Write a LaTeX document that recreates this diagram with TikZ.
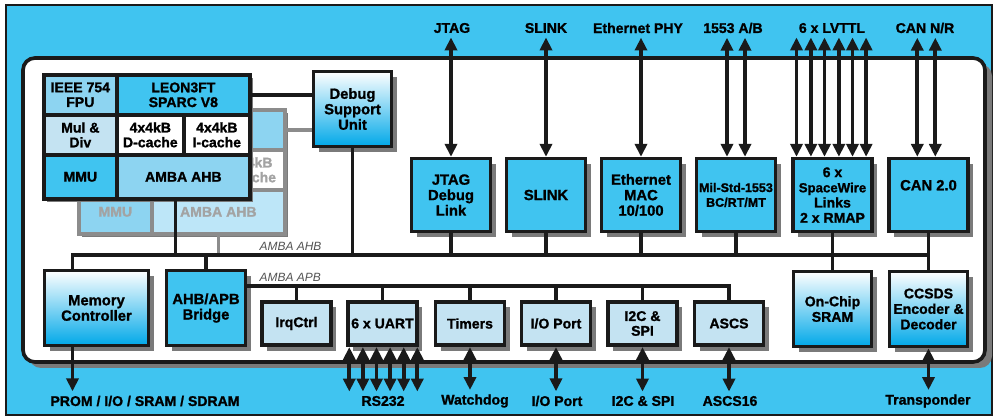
\documentclass[tikz,border=0pt]{standalone}
\usepackage{fontspec}
\setmainfont{Liberation Sans}[BoldFeatures={FakeBold=1.2}]
\usetikzlibrary{positioning,arrows.meta,shadows}
\definecolor{cCyan}{HTML}{40C4F0}
\definecolor{cLight}{HTML}{8DD4F1}
\definecolor{cPale}{HTML}{C4E3F2}
\definecolor{cFaint}{HTML}{BDE6F8}
\definecolor{cDeep}{HTML}{00A8E8}
\definecolor{cInk}{HTML}{1A1A1A}
\definecolor{cShade}{HTML}{7A7A7A}
\definecolor{cGrey}{HTML}{8C8C8C}

\begin{document}
\begin{tikzpicture}[x=0.025cm,y=-0.025cm,
    blk/.style={draw=cInk,line width=2.6pt,fill=cCyan,align=center,inner sep=1pt,
                font=\fontsize{10.5}{11}\selectfont\bfseries,
                drop shadow={shadow xshift=0.13cm,shadow yshift=-0.13cm,fill=cShade,opacity=1}},
    gblk/.style={blk,top color=white,bottom color=cDeep},
    topblk/.style={blk,minimum width=1.97cm,minimum height=1.82cm},
    apbblk/.style={blk,fill=cPale,minimum width=1.72cm,minimum height=1.09cm,
                   font=\fontsize{10}{10.5}\selectfont\bfseries},
    cell/.style={draw=cInk,line width=2.6pt,anchor=north west,inner sep=0pt,align=center,
                 font=\fontsize{10}{10.5}\selectfont\bfseries},
    bcell/.style={cell,draw=cGrey,text=cGrey!80},
    bus/.style={cInk,line width=2.6pt},
    gbus/.style={cGrey,line width=2.6pt},
    io/.style={{Triangle[length=3.2mm,width=3mm]}-{Triangle[length=3.2mm,width=3mm]},cInk,line width=2.6pt},
    arr/.style={-{Triangle[length=3.2mm,width=3mm]},cInk,line width=2.6pt},
    ext/.style={font=\fontsize{10}{11}\selectfont\bfseries,inner sep=3pt},
    buslab/.style={font=\fontsize{8.5}{9}\selectfont\itshape,text=cInk!75,inner sep=1pt}]
  \useasboundingbox (0,0) rectangle (996,419);
  % chip outline
  \draw[cInk,line width=1.6pt,fill=cCyan] (6,5) rectangle (992,415);
  \fill[cShade,rounded corners=0.3cm] (29,64) rectangle (992,368);
  \draw[cInk,line width=2.6pt,fill=white,rounded corners=0.3cm] (23,58) rectangle (985,362);

  % second processor (behind)
  \fill[cShade] (82,113) rectangle (288,237);
  \node[bcell,fill=cLight,minimum width=1.825cm,minimum height=1cm] (bFpu) at (77,108) {};
  \node[bcell,fill=cLight,minimum width=3.325cm,minimum height=1cm] (bLeon) at (150,108) {};
  \node[bcell,fill=cPale,minimum width=1.825cm,minimum height=1cm] (bMul) at (77,148) {};
  \node[bcell,fill=white,minimum width=1.675cm,minimum height=1cm] (bDcache) at (150,148) {};
  \node[bcell,fill=white,minimum width=1.65cm,minimum height=1cm] (bIcache) at (217,148) {4x4kB\\I-cache};
  \node[bcell,fill=cLight,minimum width=1.825cm,minimum height=1.1cm] (bMmu) at (77,188) {MMU};
  \node[bcell,fill=cFaint,minimum width=3.325cm,minimum height=1.1cm] (bAhb) at (150,188) {AMBA AHB};

  % processor
  \fill[cShade] (47,78) rectangle (253,202);
  \node[cell,fill=cLight,minimum width=1.825cm,minimum height=1cm] (cFpu) at (42,73) {IEEE 754\\FPU};
  \node[cell,fill=cCyan,minimum width=3.325cm,minimum height=1cm] (cLeon) at (115,73) {LEON3FT\\SPARC V8};
  \node[cell,fill=cPale,minimum width=1.825cm,minimum height=1cm] (cMul) at (42,113) {Mul \&\\Div};
  \node[cell,fill=white,minimum width=1.675cm,minimum height=1cm] (cDcache) at (115,113) {4x4kB\\D-cache};
  \node[cell,fill=white,minimum width=1.65cm,minimum height=1cm] (cIcache) at (182,113) {4x4kB\\I-cache};
  \node[cell,fill=cCyan,minimum width=1.825cm,minimum height=1.1cm] (cMmu) at (42,153) {MMU};
  \node[cell,fill=cLight,minimum width=3.325cm,minimum height=1.1cm] (cAhb) at (115,153) {AMBA AHB};

  \node[gblk,minimum width=1.95cm,minimum height=1.88cm] (dsu) at (352.5,109) {Debug\\Support\\Unit};

  % AHB masters / slaves, top row
  \node[topblk] (jtag) at (451,195) {JTAG\\Debug\\Link};
  \node[topblk] (slink) at (546,195) {SLINK};
  \node[topblk] (eth) at (641,195) {Ethernet\\MAC\\10/100};
  \node[topblk,font=\fontsize{8.9}{10.5}\selectfont\bfseries] (mil) at (736,195) {Mil-Std-1553\\BC/RT/MT};
  \node[topblk,font=\fontsize{10}{10.8}\selectfont\bfseries] (spw) at (832.5,195)
    {6 x\\{\fontsize{9.4}{10.8}\selectfont SpaceWire}\\Links\\2 x RMAP};
  \node[topblk] (can) at (928.5,195) {CAN 2.0\\[3pt]};

  % bottom row
  \node[gblk,minimum width=2.6cm,minimum height=1.88cm] (memc) at (96.5,308) {Memory\\Controller};
  \node[blk,minimum width=1.98cm,minimum height=1.88cm] (bridge) at (206,308) {AHB/APB\\Bridge};
  \node[apbblk] (irq) at (296.5,323.5) {IrqCtrl};
  \node[apbblk] (uart) at (382.5,323.5) {6 x UART};
  \node[apbblk] (timers) at (470,323.5) {Timers};
  \node[apbblk] (iop) at (556,323.5) {I/O Port};
  \node[apbblk] (i2c) at (642.5,323.5) {I2C \&\\SPI};
  \node[apbblk] (ascs) at (729,323.5) {ASCS};
  \node[gblk,minimum width=1.95cm,minimum height=1.88cm,font=\fontsize{10}{11}\selectfont\bfseries]
    (sram) at (832.5,309) {On-Chip\\SRAM};
  \node[gblk,minimum width=1.95cm,minimum height=1.88cm,font=\fontsize{10}{11}\selectfont\bfseries]
    (ccsds) at (928.5,309) {CCSDS\\Encoder \&\\Decoder};

  % buses
  \coordinate (ahbY) at (0,255);
  \coordinate (apbY) at (0,286);
  \draw[gbus] (bLeon.east) -- (bLeon.east -| dsu.west);
  \draw[gbus] (bAhb.south) -- (bAhb.south |- ahbY);
  \draw[bus] (cLeon.east) -- (cLeon.east -| dsu.west);
  \draw[bus] ([xshift=-0.2cm]cAhb.south) -- ([xshift=-0.2cm]cAhb.south |- ahbY);
  \draw[bus] ([xshift=-0.6cm]memc.north) |- (ahbY -| ccsds.north) -- (ccsds.north);
  \foreach \n in {dsu,jtag,slink,eth,mil,spw,can}
    \draw[bus] (\n.south) -- (\n.south |- ahbY);
  \foreach \n in {bridge,sram}
    \draw[bus] (\n.north) -- (\n.north |- ahbY);
  \draw[bus] (bridge.east |- apbY) -| (ascs.north);
  \foreach \n in {irq,uart,timers,iop,i2c}
    \draw[bus] (\n.north) -- (\n.north |- apbY);
  \node[buslab,anchor=south west] (lAhb) at (258,252) {AMBA AHB};
  \node[buslab,anchor=south west] (lApb) at (258,283) {AMBA APB};

  % external interfaces, top
  \node[ext] (lJtag) at (452,28) {JTAG};
  \node[ext] (lSlink) at (546,28) {SLINK};
  \node[ext] (lEth) at (638,28) {Ethernet PHY};
  \node[ext] (l1553) at (733,28) {1553 A/B};
  \node[ext] (lLvttl) at (832,28) {6 x LVTTL};
  \node[ext] (lCan) at (925,28) {CAN N/R};
  \draw[io] (jtag.north) -- (jtag.north |- lJtag.south);
  \draw[io] (slink.north) -- (slink.north |- lSlink.south);
  \draw[io] (eth.north) -- (eth.north |- lEth.south);
  \foreach \dx in {-0.225,0.225}
    \draw[io] ([xshift=\dx cm]mil.north) -- ([xshift=\dx cm]mil.north |- l1553.south);
  \foreach \dx in {-0.9,-0.54,-0.2,0.16,0.5,0.84}
    \draw[io] ([xshift=\dx cm]spw.north) -- ([xshift=\dx cm]spw.north |- lLvttl.south);
  \foreach \dx in {-0.28,0.17}
    \draw[io] ([xshift=\dx cm]can.north) -- ([xshift=\dx cm]can.north |- lCan.south);

  % external interfaces, bottom
  \node[ext] (lProm) at (145,401) {PROM / I/O / SRAM / SDRAM};
  \node[ext] (lRs) at (383,401) {RS232};
  \node[ext] (lWdog) at (475,401) {Watchdog};
  \node[ext] (lIo) at (557,401) {I/O Port};
  \node[ext] (lI2c) at (643,401) {I2C \& SPI};
  \node[ext] (lAscs) at (730,401) {ASCS16};
  \node[ext] (lTrans) at (928,401) {Transponder};
  \draw[arr] ([xshift=-0.6cm]memc.south) -- ([xshift=-0.6cm]memc.south |- lProm.north);
  \foreach \dx in {-0.83,-0.49,-0.15,0.19,0.53,0.87}
    \draw[io] ([xshift=\dx cm]uart.south) -- ([xshift=\dx cm]uart.south |- lRs.north);
  \draw[io] (timers.south) -- (timers.south |- lWdog.north);
  \draw[io] (iop.south) -- (iop.south |- lIo.north);
  \draw[io] (i2c.south) -- (i2c.south |- lI2c.north);
  \draw[io] (ascs.south) -- (ascs.south |- lAscs.north);
  \draw[io] (ccsds.south) -- (ccsds.south |- lTrans.north);
\end{tikzpicture}
\end{document}
